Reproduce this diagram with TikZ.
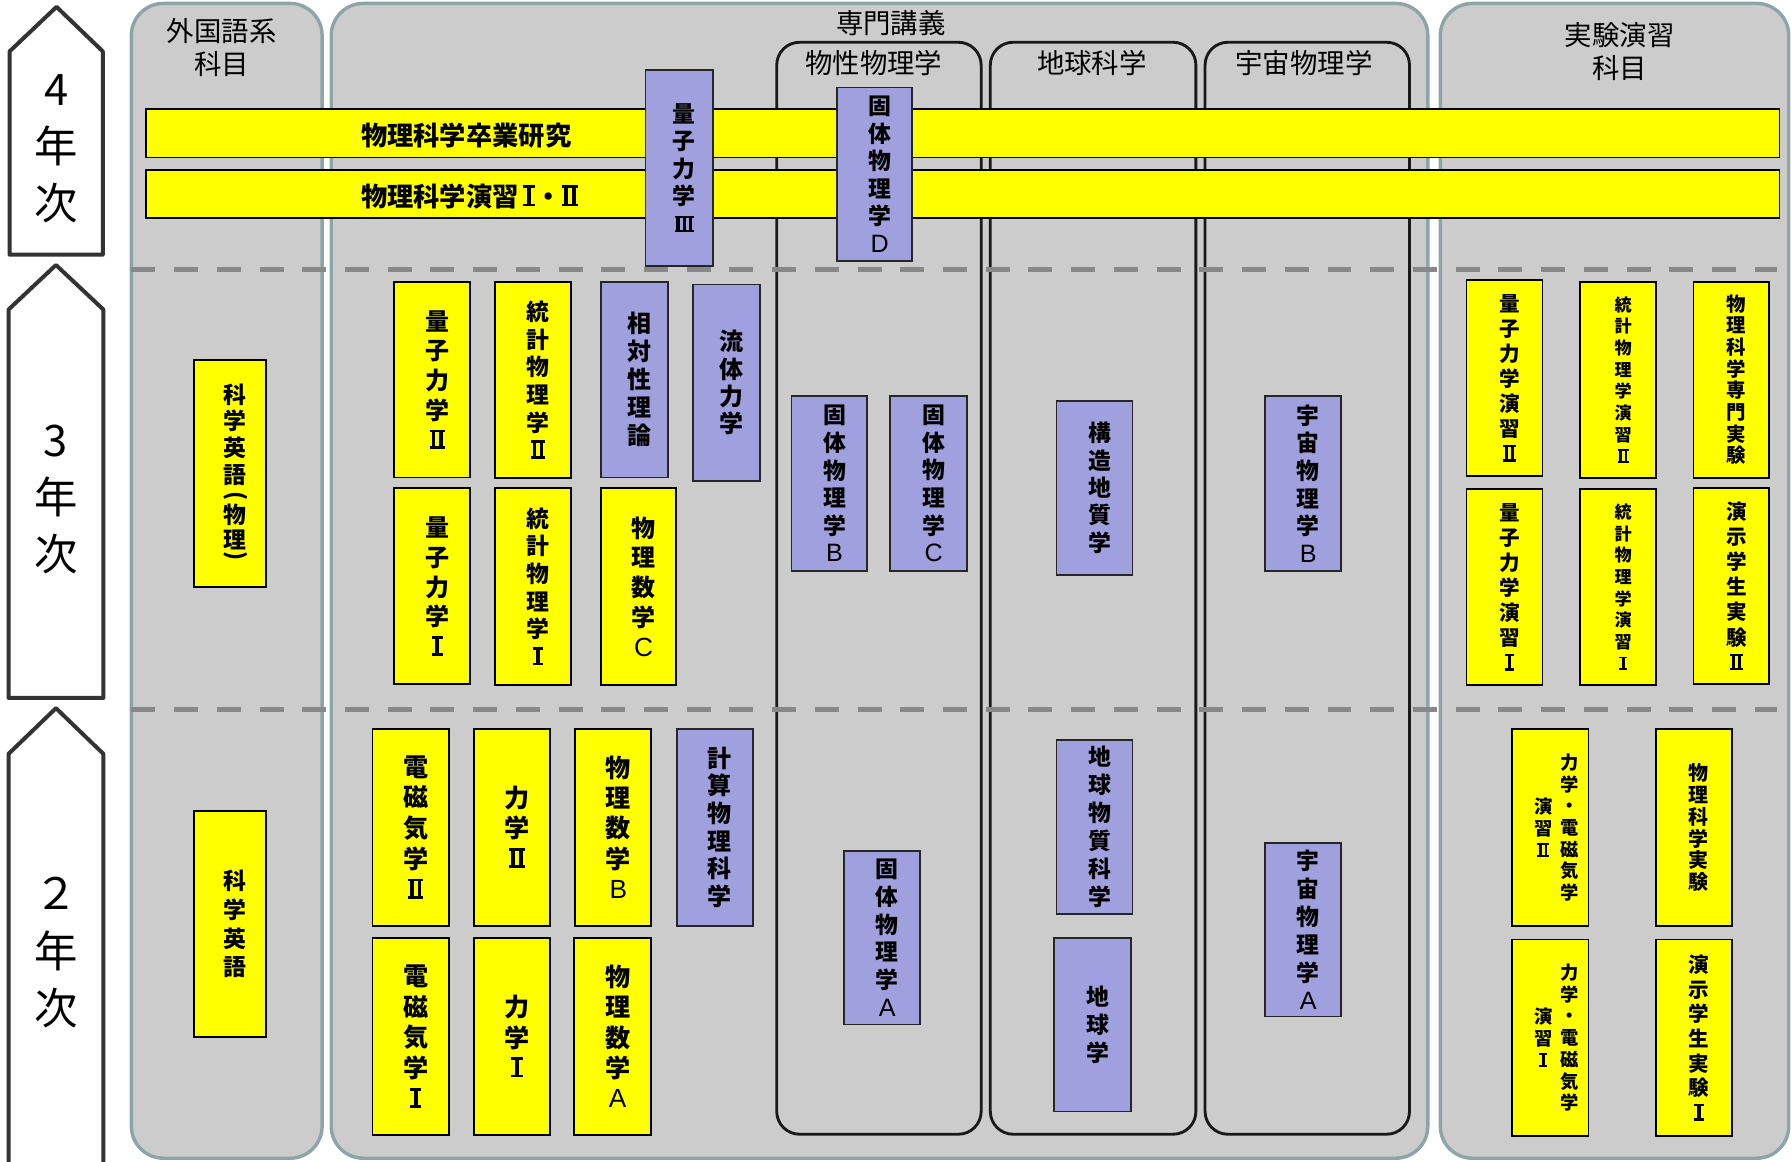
\documentclass[tikz,border=0pt]{standalone}
\usepackage{fontspec}
\usepackage{graphicx}
\setmainfont{Noto Sans CJK JP}
\newfontfamily\lat{Liberation Sans}
\definecolor{pgray}{RGB}{204,204,204}
\definecolor{pborder}{RGB}{142,165,166}
\definecolor{purp}{RGB}{160,160,222}
\definecolor{dashgray}{RGB}{136,136,136}
\definecolor{ybar}{RGB}{255,255,0}
\newcommand\fs[2]{\fontsize{#1}{#2}\selectfont}
\newcommand\lt[2]{{\lat\mdseries\fontsize{#1}{#1}\selectfont #2}}
\newcommand\rI{\vbox{\hrule height .11em width .46em\hbox to .46em{\hss\vrule width .16em height .58em\hss}\hrule height .11em width .46em}}
\newcommand\rII{\vbox{\hrule height .11em width .62em\hbox to .62em{\hskip.08em\vrule width .15em height .58em\hss\vrule width .15em height .58em\hskip.08em}\hrule height .11em width .62em}}
\newcommand\rIII{\vbox{\hrule height .1em width .82em\hbox to .82em{\hskip.07em\vrule width .14em height .5em\hss\vrule width .14em height .5em\hss\vrule width .14em height .5em\hskip.07em}\hrule height .1em width .82em}}
\newcommand\vpl{\rotatebox[origin=c]{-90}{(}}
\newcommand\vpr{\rotatebox[origin=c]{-90}{)}}
% #1 extra text opts, #2 name, #3 style, #4 x1, #5 y1, #6 x2, #7 y2, #8 font, #9 text
\newcommand\cbox[9][]{%
  \node[#3, minimum width={(#6-#4)*1pt}, minimum height={(#7-#5)*1pt}] (#2) at ({(#4+#6)/2},{(#5+#7)/2}) {};
  \node[vtxt, font={\bfseries#8}, xshift=4.5pt, #1] (#2-t) at (#2.center) {#9};
}
\begin{document}
\begin{tikzpicture}[x=1pt,y=-1pt,
  panel/.style={draw=pborder, line width=3pt, fill=pgray, rounded corners=28pt},
  subpanel/.style={draw=black!90, line width=2.5pt, rounded corners=20pt},
  ybox/.style={draw=black, line width=1.5pt, fill=ybar, inner sep=0pt},
  pbox/.style={draw=black!85, line width=1.5pt, fill=purp, inner sep=0pt},
  vtxt/.style={align=center, inner sep=0pt},
  title/.style={align=center, inner sep=0pt, font=\fs{24}{29}},
  yeararrow/.style={draw=black!80, line width=3.5pt, fill=white, line join=round},
  yeartxt/.style={align=center, inner sep=0pt, font=\fs{38}{50}},
  sepline/.style={draw=dashgray, line width=4.5pt, dash pattern=on 21pt off 16.4pt},
  bartxt/.style={anchor=west, inner sep=0pt, font=\bfseries\fs{23}{28}},
]
\clip (0,0) rectangle (1568,1016.5);
\fill[white] (0,0) rectangle (1568,1016.5);

% year arrows
\draw[yeararrow] (8.4,223) -- (8.4,45) -- (49.5,6) -- (90,45) -- (90,223) -- cycle;
\node[yeartxt] (y4) at (49.5,130) {4\\年\\次};
\draw[yeararrow] (7.5,611) -- (7.5,271) -- (49,232) -- (90.5,271) -- (90.5,611) -- cycle;
\node[yeartxt] (y3) at (49,437) {3\\年\\次};
\draw[yeararrow] (7.5,1040) -- (7.5,660) -- (49,620) -- (90.5,660) -- (90.5,1040);
\node[yeartxt] (y2) at (49,834) {２\\年\\次};

% panels
\draw[panel] (115,3) rectangle (282,1014);
\draw[panel] (290,3) rectangle (1250,1014);
\draw[panel] (1261,3) rectangle (1566,1014);
\node[title] (tfl) at (194,41.6) {外国語系\\科目};
\node[title] (tsp) at (780,20.4) {専門講義};
\node[title] (tex) at (1418,45.2) {実験演習\\科目};

% sub panels
\draw[subpanel] (680,37) rectangle (859,993);
\draw[subpanel] (867,37) rectangle (1047,993);
\draw[subpanel] (1055,37) rectangle (1234,993);
\node[title] (tbs) at (765,55.5) {物性物理学};
\node[title] (tgs) at (956,55.5) {地球科学};
\node[title] (tus) at (1141.7,55.5) {宇宙物理学};

% separators
\draw[sepline] (115,236) -- (1556,236);
\draw[sepline] (115,621.5) -- (1556,621.5);

% bars
\node[ybox, minimum width=1430pt, minimum height=42.3pt] (bar1) at (843,116.7) {};
\node[bartxt] (bar1-t) at (316,119) {物理科学卒業研究};
\node[ybox, minimum width=1430pt, minimum height=42pt] (bar2) at (843,170) {};
\node[bartxt] (bar2-t) at (316,172) {物理科学演習\,\rI・\rII};

\cbox{q3}{pbox}{565}{61}{624}{233}{\fs{20}{24}}{量\\子\\力\\学\\\rIII}
\cbox{kD}{pbox}{733}{76.5}{798.5}{228.5}{\fs{20}{24.2}}{固\\体\\物\\理\\学\\\lt{22}{D}}

% foreign
\cbox[xshift=0pt]{ke3}{ybox}{170}{315}{233}{514}{\fs{20}{23.5}}{科\\学\\英\\語\\[-6.1pt]\vpl\\[-5.9pt]物\\[-1.6pt]理\\[-10.5pt]\vpr}
\cbox[xshift=0pt]{ke2}{ybox}{170}{710}{233}{908}{\fs{20}{25}}{科\\学\\英\\語}

% year 3 main
\cbox{q2}{ybox}{345}{246.6}{411.5}{418}{\fs{21}{26}}{量\\子\\力\\学\\\rII}
\cbox{q1}{ybox}{345}{427.5}{411.5}{599}{\fs{21}{26}}{量\\子\\力\\学\\\rI}
\cbox{s2}{ybox}{433.4}{246.6}{499.6}{418.5}{\fs{20}{24.2}}{統\\計\\物\\理\\学\\\rII}
\cbox{s1}{ybox}{433.4}{427.5}{499.6}{599.5}{\fs{20}{24.2}}{統\\計\\物\\理\\学\\\rI}
\cbox{rel}{pbox}{526}{246.6}{585}{418}{\fs{21}{24.4}}{相\\対\\性\\理\\論}
\cbox{mC}{ybox}{526}{427.5}{592}{599.5}{\fs{21}{26}}{物\\理\\数\\学\\\lt{23}{C}}
\cbox{fl}{pbox}{607}{249}{665.4}{421}{\fs{21}{24}}{流\\体\\力\\学}

% year 2 main
\cbox{em2}{ybox}{326}{638}{392.8}{810.4}{\fs{22}{26.8}}{電\\磁\\気\\学\\\rII}
\cbox{em1}{ybox}{326}{821}{392.8}{993.7}{\fs{22}{26.8}}{電\\磁\\気\\学\\\rI}
\cbox{m2}{ybox}{415}{638}{481.5}{810.4}{\fs{22}{26.5}}{力\\学\\\rII}
\cbox{m1}{ybox}{415}{821}{481.5}{993.7}{\fs{22}{26.5}}{力\\学\\\rI}
\cbox{mB}{ybox}{503.7}{638}{570.2}{810.4}{\fs{22}{26.5}}{物\\理\\数\\学\\\lt{23}{B}}
\cbox{mA}{ybox}{502.8}{821}{569.7}{993.7}{\fs{22}{26.5}}{物\\理\\数\\学\\\lt{23}{A}}
\cbox{cp}{pbox}{592.4}{638}{659}{810.4}{\fs{21}{24.2}}{計\\算\\物\\理\\科\\学}

% sub panels boxes
\cbox{kB}{pbox}{692.9}{346.7}{759.2}{500}{\fs{20}{24.2}}{固\\体\\物\\理\\学\\\lt{22}{B}}
\cbox{kC}{pbox}{779.3}{346.7}{846.4}{500}{\fs{20}{24.2}}{固\\体\\物\\理\\学\\\lt{22}{C}}
\cbox{kA}{pbox}{739}{744.8}{805.5}{897}{\fs{20}{24.4}}{固\\体\\物\\理\\学\\\lt{22}{A}}
\cbox{g3}{pbox}{925}{350.8}{991.4}{503.4}{\fs{20}{24}}{構\\造\\地\\質\\学}
\cbox{g2}{pbox}{925}{648}{991.4}{800}{\fs{20}{24.6}}{地\\球\\物\\質\\科\\学}
\cbox{g1}{pbox}{923}{821}{990}{973}{\fs{20}{24.6}}{地\\球\\学}
\cbox{uB}{pbox}{1107.7}{346.7}{1174}{500}{\fs{20}{24.2}}{宇\\宙\\物\\理\\学\\\lt{22}{B}}
\cbox{uA}{pbox}{1107.7}{738.3}{1174}{890}{\fs{20}{24.6}}{宇\\宙\\物\\理\\学\\\lt{22}{A}}

% experiment panel
\cbox{qe2}{ybox}{1284}{245.1}{1350.3}{416.8}{\fs{18}{21.9}}{量\\子\\力\\学\\演\\習\\\rII}
\cbox{qe1}{ybox}{1284}{428.1}{1350.3}{599.7}{\fs{18}{21.9}}{量\\子\\力\\学\\演\\習\\\rI}
\cbox{se2}{ybox}{1383.3}{246.6}{1449.9}{418.2}{\fs{15}{19}}{統\\計\\物\\理\\学\\演\\習\\\rII}
\cbox{se1}{ybox}{1383.3}{428.1}{1449.9}{599.7}{\fs{15}{19}}{統\\計\\物\\理\\学\\演\\習\\\rI}
\cbox[xshift=0pt]{spx}{ybox}{1482.5}{246.6}{1549}{418.2}{\fs{17}{19}}{物\\理\\科\\学\\専\\門\\実\\験}
\cbox{dx2}{ybox}{1482.5}{427}{1549}{599}{\fs{18}{22}}{演\\示\\学\\生\\実\\験\\\rII}
\cbox[xshift=0pt]{px}{ybox}{1449.6}{638.5}{1516.1}{810.7}{\fs{17.5}{19}}{物\\理\\科\\学\\実\\験}
\cbox{dx1}{ybox}{1449.6}{822.4}{1516.1}{994.6}{\fs{18}{21.6}}{演\\示\\学\\生\\実\\験\\\rI}

\cbox[xshift=12.7pt]{me2}{ybox}{1324}{638.5}{1390.6}{810.7}{\fs{16}{19}}{力\\学\\・\\電\\磁\\気\\学}
\node[vtxt, font=\bfseries\fs{16}{19}, xshift=-6.3pt] (me2-u) at (me2.center) {演\\習\\\rII};
\cbox[xshift=12.7pt]{me1}{ybox}{1324}{822.4}{1390.6}{994.6}{\fs{16}{19}}{力\\学\\・\\電\\磁\\気\\学}
\node[vtxt, font=\bfseries\fs{16}{19}, xshift=-6.3pt] (me1-u) at (me1.center) {演\\習\\\rI};
\end{tikzpicture}
\end{document}
